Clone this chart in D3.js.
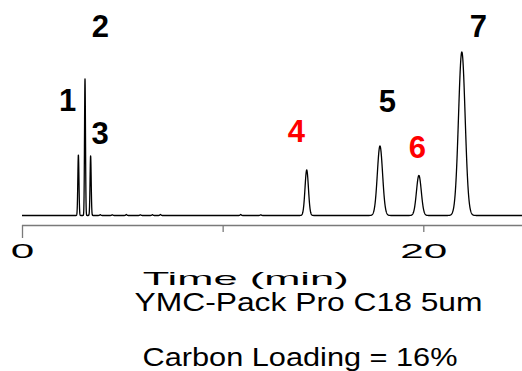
<!DOCTYPE html>
<html>
<head>
<meta charset="utf-8">
<script src="https://cdn.jsdelivr.net/npm/d3@7"></script>
<style>
  html, body { margin: 0; padding: 0; background: #fff; }
  svg { display: block; }
</style>
</head>
<body>
<svg id="chart" width="522" height="371"></svg>
<script>
// ---- Data ----
// Main peaks: retention time (min), height (arbitrary units), width sigma (min)
const peakNames   = ["1", "2", "3", "4", "5", "6", "7"];
const peakTimes   = [2.81, 3.14, 3.42, 14.19, 17.84, 19.78, 21.92];
const peakHeights = [60.5, 136.5, 59.5, 45.5, 69.5, 40, 163.5];
const peakSigmas  = [0.028, 0.024, 0.028, 0.085, 0.13, 0.12, 0.165];
const peakColors  = ["#000", "#000", "#000", "#ff0000", "#000", "#ff0000", "#000"];
// Label anchors (in data units: time, intensity)
const labelTimes  = [2.27, 3.91, 3.89, 13.68, 18.21, 19.71, 22.75];
const labelLevels = [104.5, 178.5, 71.5, 73.5, 103.5, 57.5, 178.5];
// Minor baseline disturbances
const minorTimes   = [3.9, 4.5, 5.2, 5.9, 6.5, 6.9, 10.9, 11.9];
const minorHeights = [0.8, 0.7, 1.0, 0.7, 0.8, 1.0, 1.0, 0.7];
const minorSigmas  = [0.03, 0.03, 0.03, 0.03, 0.03, 0.03, 0.03, 0.03];
// Axis
const xTicks      = [0, 10, 20];
const xTickLabels = ["0", "", "20"];
const xTitle      = "Time (min)";
const subtitle1   = "YMC-Pack Pro C18 5um";
const subtitle2   = "Carbon Loading = 16%";

// ---- Build trace from the peak table ----
const tStart = 0, tEnd = 24.92, step = 0.004;
function signalAt(t) {
  let v = 0;
  for (let i = 0; i < peakTimes.length; i++) {
    const z = (t - peakTimes[i]) / peakSigmas[i];
    v += peakHeights[i] * Math.exp(-0.5 * z * z);
  }
  for (let i = 0; i < minorTimes.length; i++) {
    const z = (t - minorTimes[i]) / minorSigmas[i];
    v += minorHeights[i] * Math.exp(-0.5 * z * z);
  }
  return v;
}
const trace = d3.range(tStart, tEnd + step / 2, step).map(t => ({ t, v: signalAt(t) }));

// ---- Drawing ----
const svg = d3.select("#chart");
const x = d3.scaleLinear().domain([0, 20]).range([22, 423.3]);
const y = d3.scaleLinear().domain([0, 200]).range([215.5, 15.5]);

const line = d3.line().x(d => x(d.t)).y(d => y(d.v)).curve(d3.curveLinear);
svg.append("path")
  .datum(trace)
  .attr("d", line)
  .attr("fill", "none")
  .attr("stroke", "#000")
  .attr("stroke-width", 1.3)
  .attr("stroke-linejoin", "round");

// Axis
const axisY = 225;
const xAxis = d3.axisBottom(x)
  .tickValues(xTicks)
  .tickFormat((d, i) => xTickLabels[i])
  .tickSizeOuter(0)
  .tickSize(7);
const gx = svg.append("g")
  .attr("transform", `translate(0,${axisY})`)
  .call(xAxis);
gx.select(".domain")
  .attr("d", `M${x(0)},0.5H522`)
  .attr("stroke", "#7a7a7a")
  .attr("stroke-width", 1.3);
gx.selectAll(".tick line")
  .attr("stroke", "#7a7a7a")
  .attr("stroke-width", 1.3)
  .attr("y2", d => d === 0 ? 13 : 7);
gx.selectAll(".tick text")
  .attr("y", 33)
  .attr("dy", 0)
  .attr("fill", "#000")
  .style("font-family", "'Liberation Sans', Arial, sans-serif")
  .style("font-size", "21px")
  .attr("textLength", (d, i) => xTickLabels[i].length * 23.5)
  .attr("lengthAdjust", "spacingAndGlyphs");

// Titles
const font = "'Liberation Sans', Arial, sans-serif";
svg.append("text")
  .attr("x", 245.7).attr("y", 284.5)
  .attr("text-anchor", "middle")
  .style("font-family", font).style("font-size", "19px")
  .attr("textLength", 206).attr("lengthAdjust", "spacingAndGlyphs")
  .text(xTitle);
svg.append("text")
  .attr("x", 308.5).attr("y", 310.5)
  .attr("text-anchor", "middle")
  .style("font-family", font).style("font-size", "25.5px")
  .attr("textLength", 348).attr("lengthAdjust", "spacingAndGlyphs")
  .text(subtitle1);
svg.append("text")
  .attr("x", 300).attr("y", 365.5)
  .attr("text-anchor", "middle")
  .style("font-family", font).style("font-size", "26px")
  .attr("textLength", 315).attr("lengthAdjust", "spacingAndGlyphs")
  .text(subtitle2);

// Peak labels
svg.append("g").selectAll("text")
  .data(peakNames)
  .join("text")
  .attr("x", (d, i) => x(labelTimes[i]))
  .attr("y", (d, i) => y(labelLevels[i]))
  .attr("text-anchor", "middle")
  .attr("fill", (d, i) => peakColors[i])
  .style("font-family", font)
  .style("font-weight", "bold")
  .style("font-size", "31px")
  .text(d => d);
</script>
</body>
</html>
